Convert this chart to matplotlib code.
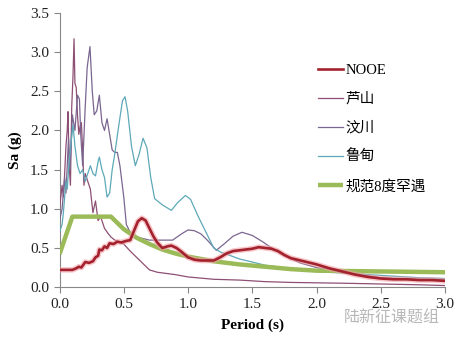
import matplotlib
matplotlib.use("Agg")
import matplotlib.pyplot as plt
import numpy as np

# ---------------- data ----------------
nooe_T = [0.0, 0.05, 0.10, 0.13, 0.15, 0.17, 0.20, 0.23, 0.26, 0.28, 0.30, 0.31, 0.33, 0.35,
          0.37, 0.39, 0.42, 0.45, 0.48, 0.52, 0.55, 0.58, 0.61, 0.64, 0.67, 0.70, 0.73, 0.76,
          0.80, 0.84, 0.87, 0.91, 0.95, 1.00, 1.05, 1.10, 1.20, 1.25, 1.30, 1.35, 1.40, 1.50,
          1.55, 1.60, 1.65, 1.70, 1.75, 1.80, 1.90, 2.00, 2.10, 2.20, 2.30, 2.40, 2.50, 2.60,
          2.70, 2.80, 2.90, 3.00]
nooe_Sa = [0.22, 0.22, 0.22, 0.24, 0.26, 0.25, 0.32, 0.31, 0.33, 0.38, 0.40, 0.48, 0.47, 0.52,
           0.50, 0.56, 0.55, 0.58, 0.57, 0.59, 0.60, 0.72, 0.84, 0.88, 0.85, 0.75, 0.65, 0.57,
           0.50, 0.52, 0.53, 0.50, 0.45, 0.38, 0.35, 0.34, 0.34, 0.38, 0.43, 0.46, 0.47, 0.49,
           0.51, 0.50, 0.49, 0.46, 0.41, 0.37, 0.33, 0.29, 0.24, 0.20, 0.16, 0.13, 0.11, 0.10,
           0.10, 0.09, 0.09, 0.08]

lushan_T = [0.0, 0.02, 0.03, 0.04, 0.05, 0.06, 0.066, 0.075, 0.085, 0.095, 0.105, 0.113, 0.12,
            0.13, 0.14, 0.15, 0.16, 0.17, 0.18, 0.19, 0.20, 0.22, 0.24, 0.26, 0.28, 0.30, 0.32,
            0.35, 0.38, 0.40, 0.43, 0.46, 0.50, 0.55, 0.60, 0.65, 0.70, 0.76, 0.90, 1.00, 1.20,
            1.40, 1.60, 1.80, 2.00, 2.20, 2.50, 2.80, 3.00]
lushan_Sa = [1.00, 1.30, 1.15, 1.45, 1.80, 2.00, 2.24, 1.55, 1.30, 2.30, 2.70, 3.17, 2.60,
             2.55, 2.20, 1.95, 2.05, 2.10, 1.75, 1.30, 1.45, 1.35, 1.25, 0.95, 1.10, 0.85, 0.90,
             0.75, 0.68, 0.64, 0.60, 0.58, 0.55, 0.46, 0.38, 0.30, 0.22, 0.19, 0.16, 0.13, 0.10,
             0.09, 0.07, 0.06, 0.055, 0.05, 0.04, 0.03, 0.02]

wenchuan_T = [0.0, 0.02, 0.04, 0.05, 0.07, 0.08, 0.09, 0.10, 0.12, 0.14, 0.155, 0.165, 0.18,
              0.20, 0.215, 0.237, 0.255, 0.27, 0.29, 0.31, 0.33, 0.35, 0.37, 0.39, 0.41, 0.43,
              0.45, 0.47, 0.50, 0.52, 0.55, 0.60, 0.65, 0.70, 0.80, 0.88, 0.95, 1.00, 1.05,
              1.10, 1.15, 1.22, 1.28, 1.35, 1.42, 1.50, 1.58, 1.65, 1.75, 1.87, 2.00, 2.20,
              2.50, 2.80, 3.00]
wenchuan_Sa = [0.85, 1.00, 1.40, 1.20, 1.90, 1.50, 1.80, 2.20, 2.00, 2.45, 2.40, 1.95, 1.55,
               2.30, 2.80, 3.07, 2.50, 2.20, 2.25, 2.45, 2.10, 2.00, 2.15, 1.95, 1.75, 1.72,
               1.72, 1.55, 1.15, 0.80, 0.70, 0.64, 0.62, 0.60, 0.60, 0.60, 0.68, 0.73, 0.72,
               0.68, 0.60, 0.47, 0.55, 0.65, 0.70, 0.66, 0.58, 0.50, 0.40, 0.31, 0.25, 0.20,
               0.12, 0.10, 0.09]

ludian_T = [0.0, 0.02, 0.03, 0.05, 0.06, 0.075, 0.09, 0.105, 0.12, 0.14, 0.16, 0.18, 0.20,
            0.22, 0.24, 0.26, 0.28, 0.30, 0.31, 0.33, 0.35, 0.37, 0.39, 0.41, 0.43, 0.46,
            0.49, 0.51, 0.53, 0.56, 0.59, 0.62, 0.65, 0.68, 0.71, 0.74, 0.80, 0.87, 0.92,
            0.98, 1.02, 1.08, 1.14, 1.20, 1.25, 1.30, 1.40, 1.50, 1.60, 1.70, 1.80, 1.90,
            2.00, 2.20, 2.50, 2.80, 3.00]
ludian_Sa = [0.70, 0.80, 0.95, 1.35, 1.25, 1.60, 1.85, 2.07, 1.80, 1.55, 1.45, 1.50, 1.35,
             1.45, 1.55, 1.45, 1.42, 1.60, 1.66, 1.50, 1.40, 1.15, 1.20, 1.50, 1.70, 2.05,
             2.38, 2.43, 2.25, 1.80, 1.55, 1.70, 1.90, 1.78, 1.40, 1.13, 1.05, 0.98, 1.08,
             1.17, 1.12, 0.90, 0.70, 0.50, 0.45, 0.42, 0.36, 0.32, 0.28, 0.26, 0.24, 0.22,
             0.20, 0.18, 0.15, 0.12, 0.11]

code_T = [0.0, 0.10, 0.40, 0.50, 0.60, 0.70, 0.80, 0.90, 1.00, 1.20, 1.40, 1.60, 1.80, 2.00,
          2.50, 3.00]
code_Sa = [0.42, 0.90, 0.90, 0.74, 0.63, 0.55, 0.48, 0.43, 0.39, 0.33, 0.29, 0.26, 0.23,
           0.21, 0.20, 0.19]

labels = ["NOOE", "芦山", "汶川", "鲁甸", "规范8度罕遇"]
x_ticks = [0.0, 0.5, 1.0, 1.5, 2.0, 2.5, 3.0]
y_ticks = [0.0, 0.5, 1.0, 1.5, 2.0, 2.5, 3.0, 3.5]

# ---------------- figure ----------------
serif = ["Liberation Serif", "Noto Sans CJK SC", "DejaVu Sans"]
plt.rcParams["font.family"] = serif

fig = plt.figure(figsize=(4.65, 3.41), dpi=100)
ax = fig.add_axes([0.128, 0.158, 0.829, 0.804])

ax.plot(lushan_T, lushan_Sa, color="#8E4F74", lw=0.9, label=labels[1], zorder=3)
ax.plot(wenchuan_T, wenchuan_Sa, color="#7A6690", lw=0.9, label=labels[2], zorder=3)
ax.plot(ludian_T, ludian_Sa, color="#5EA9B8", lw=0.9, label=labels[3], zorder=3)
ax.plot(code_T, code_Sa, color="#9BBB59", lw=3.2, label=labels[4], zorder=4,
        solid_capstyle="butt")
ax.plot(nooe_T, nooe_Sa, color="#F2A2A8", lw=4.0, alpha=0.6, zorder=5)
ax.plot(nooe_T, nooe_Sa, color="#A3222E", lw=1.9, label=labels[0], zorder=6)

ax.set_xlim(0, 3.0)
ax.set_ylim(0, 3.5)
ax.set_xticks(x_ticks)
ax.set_yticks(y_ticks)
ax.set_xticklabels([f"{v:.1f}" for v in x_ticks])
ax.set_yticklabels([f"{v:.1f}" for v in y_ticks])
ax.tick_params(direction="out", length=4, width=0.8, color="#888888",
               labelsize=11, labelcolor="#222222")
for s in ["top", "right"]:
    ax.spines[s].set_visible(False)
for s in ["left", "bottom"]:
    ax.spines[s].set_color("#888888")
    ax.spines[s].set_linewidth(0.8)

ax.set_xlabel("Period (s)", fontsize=11, fontweight="bold", labelpad=6)
ax.set_ylabel("Sa (g)", fontsize=11, fontweight="bold", labelpad=6)

handles, labs = ax.get_legend_handles_labels()
order = [labs.index(l) for l in labels]
leg = ax.legend([handles[i] for i in order], [labs[i] for i in order],
                loc="upper left", bbox_to_anchor=(318 / 465, 1 - 64 / 341),
                bbox_transform=fig.transFigure, frameon=False, fontsize=10.5,
                handlelength=1.7, handletextpad=0.2, labelspacing=1.05,
                borderpad=0, borderaxespad=0)

fig.text(0.74, 0.068, "陆新征课题组", fontsize=11.5, color="#B8B8B8",
         family=["Noto Sans CJK SC", "DejaVu Sans"], va="center")

fig.savefig("out.png", dpi=100)
